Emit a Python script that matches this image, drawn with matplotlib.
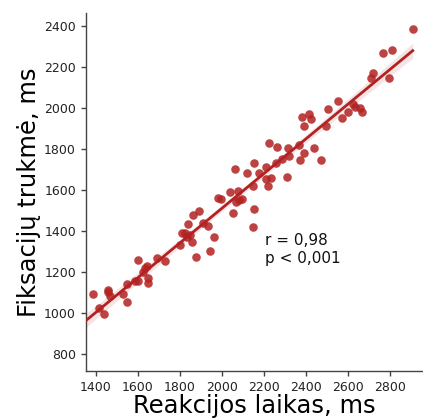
import numpy as np
import matplotlib
matplotlib.use("Agg")
import matplotlib.pyplot as plt

reaction_ms = [1386, 1416, 1439, 1457, 1460, 1468, 1528, 1549, 1549, 1587,
               1603, 1603, 1626, 1635, 1643, 1650, 1650, 1693, 1730, 1801,
               1809, 1825, 1833, 1849, 1857, 1841, 1864, 1893, 1876, 1912,
               1933, 1944, 1964, 1983, 1996, 2039, 2052, 2067, 2078, 2083,
               2095, 2147, 2155, 2147, 2218, 2232, 2064, 2152, 2118, 2209,
               2177, 2309, 2209, 2258, 2285, 2321, 2391, 2372, 2470, 2226,
               2264, 2316, 2367, 2440, 2383, 2413, 2424, 2389, 2494, 2570,
               2504, 2551, 2623, 2634, 2602, 2657, 2665, 2708, 2718, 2797,
               2768, 2808, 2908]
fixation_ms = [1094, 1023, 994, 1112, 1101, 1084, 1093, 1143, 1055, 1158,
               1158, 1259, 1201, 1221, 1229, 1169, 1148, 1267, 1254, 1332,
               1389, 1392, 1372, 1380, 1348, 1434, 1478, 1497, 1275, 1440,
               1424, 1302, 1372, 1560, 1555, 1592, 1486, 1543, 1595, 1551,
               1556, 1620, 1506, 1421, 1620, 1657, 1704, 1732, 1684, 1714,
               1681, 1665, 1652, 1733, 1750, 1767, 1782, 1748, 1748, 1829,
               1811, 1805, 1821, 1803, 1955, 1972, 1945, 1914, 1912, 1950,
               1995, 2034, 2018, 2006, 1982, 1999, 1979, 2145, 2169, 2148,
               2270, 2283, 2385]

x_ticks = [1400, 1600, 1800, 2000, 2200, 2400, 2600, 2800]
y_ticks = [800, 1000, 1200, 1400, 1600, 1800, 2000, 2200, 2400]
stats_text = "r = 0,98\np < 0,001"

x = np.array(reaction_ms, float)
y = np.array(fixation_ms, float)

fig = plt.figure(figsize=(4.23, 4.20), dpi=100)
ax = fig.add_axes([0.2026, 0.1167, 0.795, 0.852])

color = "#b22222"
ax.scatter(x, y, s=38, color=color, alpha=0.85, linewidths=0, zorder=3)

xlim = (1352, 2952)
slope, intercept = np.polyfit(x, y, 1)
xs = np.linspace(xlim[0], x.max(), 100)
ys = slope * xs + intercept
n = len(x)
resid = y - (slope * x + intercept)
s_err = np.sqrt(np.sum(resid ** 2) / (n - 2))
se = s_err * np.sqrt(1 / n + (xs - x.mean()) ** 2 / np.sum((x - x.mean()) ** 2))
ax.fill_between(xs, ys - 1.99 * se, ys + 1.99 * se, color=color, alpha=0.12,
                linewidth=0, zorder=2)
ax.plot(xs, ys, color=color, lw=2, zorder=4)

ax.set_xlim(*xlim)
ax.set_ylim(717, 2463)
ax.set_xticks(x_ticks)
ax.set_yticks(y_ticks)
ax.tick_params(labelsize=9, length=3.5, width=1, color="#444444", labelcolor="#222222")
for side in ("top", "right"):
    ax.spines[side].set_visible(False)
for side in ("left", "bottom"):
    ax.spines[side].set_color("#444444")
    ax.spines[side].set_linewidth(1)

ax.set_xlabel("Reakcijos laikas, ms", fontsize=17.5, labelpad=0)
ax.set_ylabel("Fiksacijų trukmė, ms", fontsize=17.5, labelpad=2)

ax.text(2205, 1390, stats_text, fontsize=11, va="top", ha="left",
        linespacing=1.25, color="#111111")

fig.savefig("out.png", dpi=100)
